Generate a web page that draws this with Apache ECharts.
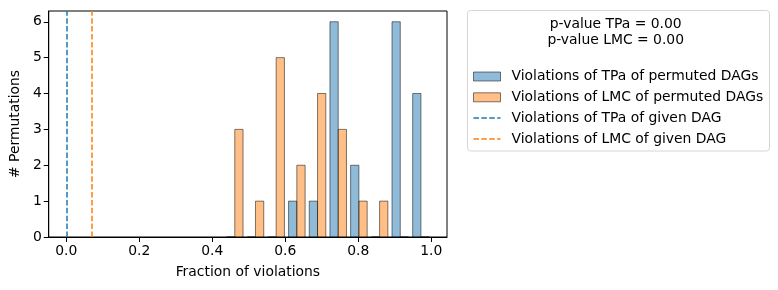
<!DOCTYPE html>
<html lang="en" style="height: 100%">
<head>
    <meta charset="UTF-8">
    <title>Permutation test</title>
</head>
<body style="height: 100%; margin: 0; background: #fff">
<div id="container" style="width: 778px; height: 290px"></div>
<script type="text/javascript" src="https://cdn.jsdelivr.net/npm/echarts@6/dist/echarts.min.js"></script>
<script type="text/javascript">

    // histogram bins (10 bins between 0.4333 and 1.0)
    var binEdges = [0.4333, 0.49, 0.5467, 0.6033, 0.66, 0.7167, 0.7733, 0.83, 0.8867, 0.9433, 1.0];
    var tpaCounts = [0, 0, 0, 1, 1, 6, 2, 0, 6, 4];
    var lmcCounts = [3, 1, 5, 2, 4, 3, 1, 1, 0, 0];

    // fraction of violations of the given DAG
    var givenTpa = 0.0;
    var givenLmc = 0.0667;

    var xTicks = [0, 0.2, 0.4, 0.6, 0.8, 1.0];
    var yTicks = [0, 1, 2, 3, 4, 5, 6];

    var seriesNames = [
        'Violations of TPa of permuted DAGs',
        'Violations of LMC of permuted DAGs',
        'Violations of TPa of given DAG',
        'Violations of LMC of given DAG'
    ];

    var font = 'DejaVu Sans';
    var fs = 13.9;
    // dashed legend handle
    var dashIcon = 'path://M0,0h5.5v1.5h-5.5z M7.9,0h5.5v1.5h-5.5z M15.8,0h5.5v1.5h-5.5z M23.7,0h3.3v1.5h-3.3z';

    function histData(counts) {
        var out = [];
        for (var i = 0; i < counts.length; i++) {
            out.push([binEdges[i], binEdges[i + 1], counts[i]]);
        }
        return out;
    }

    // side-by-side bars like matplotlib hist (rwidth 0.8)
    function makeRender(slot) {
        return function (params, api) {
            var x0 = api.value(0), x1 = api.value(1), h = api.value(2);
            var w = x1 - x0;
            var left = x0 + w * 0.1 + slot * w * 0.4;
            var right = left + w * 0.4;
            var p0 = api.coord([left, 0]);
            var p1 = api.coord([right, h]);
            return {
                type: 'rect',
                shape: {x: p0[0], y: p1[1], width: p1[0] - p0[0], height: p0[1] - p1[1]},
                style: {
                    fill: api.visual('color'),
                    stroke: 'rgba(0,0,0,0.5)',
                    lineWidth: 1
                }
            };
        };
    }

    function vline(name, value, color) {
        return {
            name: name,
            type: 'line',
            data: [],
            symbol: 'none',
            showSymbol: false,
            color: color,
            lineStyle: {color: color, width: 1.5, type: [5.5, 2.4]},
            markLine: {
                silent: true,
                symbol: 'none',
                label: {show: false},
                lineStyle: {color: color, width: 1.5, type: [5.5, 2.4]},
                data: [{xAxis: value}]
            }
        };
    }

    var dom = document.getElementById("container");
    var myChart = echarts.init(dom);

    var option = {
        animation: false,
        grid: {
            left: 48, right: 331, top: 11, bottom: 53,
            show: true, borderColor: '#000', borderWidth: 1
        },
        xAxis: {
            type: 'value',
            min: -0.048,
            max: 1.043,
            name: 'Fraction of violations',
            nameLocation: 'middle',
            nameGap: 28,
            nameTextStyle: {fontFamily: font, fontSize: fs, color: '#000'},
            axisLine: {show: true, onZero: false, lineStyle: {color: '#000'}},
            axisTick: {show: true, length: 5, lineStyle: {color: '#000'}, customValues: xTicks},
            axisLabel: {
                fontFamily: font, fontSize: fs, color: '#000', margin: 7,
                customValues: xTicks,
                formatter: function (v) { return v.toFixed(1); }
            },
            splitLine: {show: false}
        },
        yAxis: {
            type: 'value',
            min: 0,
            max: 6.3,
            name: '# Permutations',
            nameLocation: 'middle',
            nameGap: 26,
            nameTextStyle: {fontFamily: font, fontSize: fs, color: '#000'},
            axisLine: {show: true, onZero: false, lineStyle: {color: '#000'}},
            axisTick: {show: true, length: 5, lineStyle: {color: '#000'}, customValues: yTicks},
            axisLabel: {fontFamily: font, fontSize: fs, color: '#000', margin: 7, customValues: yTicks},
            splitLine: {show: false}
        },
        legend: {
            orient: 'vertical',
            left: 473,
            top: 69.5,
            padding: 0,
            itemWidth: 27,
            itemHeight: 9,
            itemGap: 6.8,
            textStyle: {fontFamily: font, fontSize: fs, color: '#000', padding: [0, 0, 0, 6]},
            data: [
                {name: seriesNames[0], icon: 'rect', itemStyle: {color: 'rgba(31,119,180,0.5)', borderColor: 'rgba(0,0,0,0.5)', borderWidth: 1}},
                {name: seriesNames[1], icon: 'rect', itemStyle: {color: 'rgba(255,127,14,0.5)', borderColor: 'rgba(0,0,0,0.5)', borderWidth: 1}},
                {name: seriesNames[2], icon: dashIcon, itemStyle: {color: '#1f77b4', borderWidth: 0}},
                {name: seriesNames[3], icon: dashIcon, itemStyle: {color: '#ff7f0e', borderWidth: 0}}
            ],
            selectedMode: false
        },
        graphic: [
            {
                type: 'rect',
                shape: {x: 467.5, y: 10.5, width: 302, height: 140.5, r: 3},
                style: {fill: '#fff', stroke: '#d6d6d6', lineWidth: 1},
                z: -1
            },
            {
                type: 'text',
                x: 615.7,
                y: 16,
                style: {
                    text: 'p-value TPa = 0.00\np-value LMC = 0.00',
                    fontFamily: font, fontSize: fs, lineHeight: 16,
                    fill: '#000', textAlign: 'center'
                }
            }
        ],
        series: [
            {
                name: seriesNames[0],
                type: 'custom',
                color: 'rgba(31,119,180,0.5)',
                renderItem: makeRender(0),
                encode: {x: [0, 1], y: 2},
                data: histData(tpaCounts)
            },
            {
                name: seriesNames[1],
                type: 'custom',
                color: 'rgba(255,127,14,0.5)',
                renderItem: makeRender(1),
                encode: {x: [0, 1], y: 2},
                data: histData(lmcCounts)
            },
            vline(seriesNames[2], givenTpa, '#1f77b4'),
            vline(seriesNames[3], givenLmc, '#ff7f0e')
        ]
    };

    myChart.setOption(option);

</script>
</body>
</html>
